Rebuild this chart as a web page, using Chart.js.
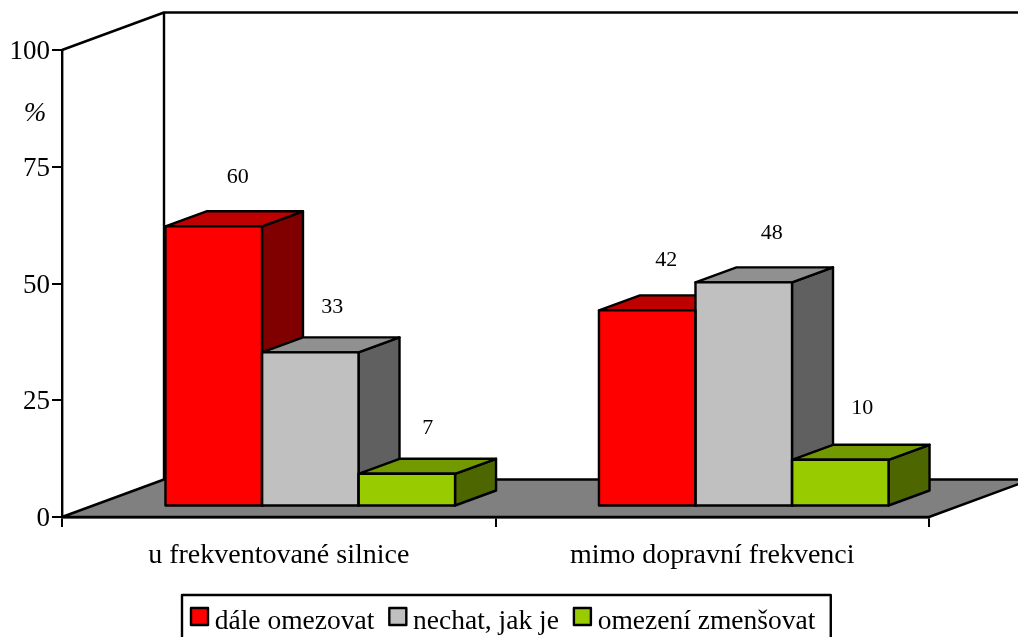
<!DOCTYPE html>
<html><head><meta charset="utf-8">
<style>html,body{margin:0;padding:0;background:#fff;overflow:hidden}canvas{display:block}</style>
<script src="https://cdn.jsdelivr.net/npm/chart.js@4/dist/chart.umd.js"></script>
</head><body><canvas id="c" width="1018" height="637"></canvas>
<script>
const categories = ["u frekventované silnice", "mimo dopravní frekvenci"];
const seriesNames = ["dále omezovat", "nechat, jak je", "omezení zmenšovat"];
const dale = [60, 42];
const nechat = [33, 48];
const omezeni = [7, 10];
const yTicks = [0, 25, 50, 75, 100];
const unitLabel = "%";

const FONT = '"Liberation Serif"';
const LW = 2.4;
const faces = [
  {front:'#ff0000', top:'#bf0000', side:'#800000'},
  {front:'#c0c0c0', top:'#909090', side:'#606060'},
  {front:'#99cc00', top:'#739900', side:'#4d6600'}
];
const DEPTH = {x:41, y:-15};      // receding direction of each bar
const WALL = {x:102, y:-37.5};    // receding direction of floor and wall
const SHIFT = {x:31.5, y:-10.5};  // front faces sit inside the floor
const labelNudge = [[[0,-1],[-5,-2]],[[-2,3],[4,-1]],[[-3,3],[-2,-3]]];

function poly(ctx, pts, fill){
  ctx.beginPath();
  pts.forEach((p,i)=> i ? ctx.lineTo(p[0],p[1]) : ctx.moveTo(p[0],p[1]));
  ctx.closePath();
  if(fill){ctx.fillStyle=fill;ctx.fill();}
  ctx.stroke();
}

const scene = {
  id:'scene',
  beforeDraw(chart){
    const lg = chart.legend, dx = 190 - lg.legendHitBoxes[0].left;
    lg.left += dx; lg.right += dx;
    lg.legendHitBoxes.forEach(h=>{h.left += dx;});
    lg.top += 9; lg.bottom += 9;
  },
  beforeDatasetsDraw(chart){
    const {ctx, chartArea:a} = chart;
    ctx.save();
    ctx.strokeStyle='#000'; ctx.lineWidth=LW; ctx.lineJoin='round';
    // back wall
    ctx.beginPath();
    ctx.moveTo(a.left,a.top);
    ctx.lineTo(a.left+WALL.x,a.top+WALL.y);
    ctx.lineTo(chart.width+2,a.top+WALL.y);
    ctx.moveTo(a.left+WALL.x,a.top+WALL.y);
    ctx.lineTo(a.left+WALL.x,a.bottom+WALL.y);
    ctx.stroke();
    // floor
    poly(ctx,[[a.left,a.bottom],[a.left+WALL.x,a.bottom+WALL.y],[a.right+WALL.x,a.bottom+WALL.y],[a.right,a.bottom]],'#808080');
    // depth faces, left to right so nearer faces overpaint farther ones
    ctx.translate(SHIFT.x,SHIFT.y);
    categories.forEach((_,j)=>{
      faces.forEach((f,i)=>{
        const b = chart.getDatasetMeta(i).data[j];
        const l=b.x-b.width/2, r=b.x+b.width/2, t=b.y, bot=b.base;
        poly(ctx,[[r,t],[r+DEPTH.x,t+DEPTH.y],[r+DEPTH.x,bot+DEPTH.y],[r,bot]],f.side);
        poly(ctx,[[l,t],[l+DEPTH.x,t+DEPTH.y],[r+DEPTH.x,t+DEPTH.y],[r,t]],f.top);
      });
    });
    ctx.restore();
    ctx.save();
    ctx.translate(SHIFT.x,SHIFT.y);
  },
  afterDatasetsDraw(chart){
    const {ctx} = chart;
    // outline the front faces the library just filled
    ctx.strokeStyle='#000'; ctx.lineWidth=LW; ctx.lineJoin='round';
    faces.forEach((f,i)=>{
      chart.getDatasetMeta(i).data.forEach(b=>{
        ctx.strokeRect(b.x-b.width/2,b.y,b.width,b.base-b.y);
      });
    });
    ctx.restore();
    ctx.save();
    ctx.fillStyle='#000'; ctx.textAlign='center'; ctx.textBaseline='middle';
    ctx.font='22px '+FONT;
    [dale,nechat,omezeni].forEach((vals,i)=>{
      vals.forEach((v,j)=>{
        const b = chart.getDatasetMeta(i).data[j];
        const n = labelNudge[i][j];
        ctx.fillText(String(v), b.x+SHIFT.x+24+n[0], b.y+SHIFT.y-48.5+n[1]);
      });
    });
    ctx.font='italic 27px '+FONT;
    ctx.fillText(unitLabel,35,114);
    ctx.restore();
  },
  afterDraw(chart){
    const {ctx, legend} = chart;
    ctx.save();
    ctx.strokeStyle='#000'; ctx.lineWidth=LW; ctx.lineJoin='round';
    const hb = legend.legendHitBoxes;
    const last = hb[hb.length-1];
    const L = 182, R = last.left+last.width+15.5;
    ctx.beginPath();
    ctx.moveTo(L,chart.height+2); ctx.lineTo(L,595); ctx.lineTo(R,595); ctx.lineTo(R,chart.height+2);
    ctx.stroke();
    hb.forEach((h,i)=>{
      ctx.fillStyle=faces[i].front;
      ctx.fillRect(h.left+1,608,17,17);
      ctx.strokeRect(h.left+1,608,17,17);
    });
    ctx.restore();
  }
};

new Chart(document.getElementById('c'),{
  type:'bar',
  data:{
    labels:categories,
    datasets:[dale,nechat,omezeni].map((d,i)=>({
      label:seriesNames[i], data:d, backgroundColor:faces[i].front,
      borderWidth:0, inflateAmount:0, clip:false,
      categoryPercentage:0.668, barPercentage:1
    }))
  },
  plugins:[scene],
  options:{
    responsive:false, animation:false, events:[],
    layout:{padding:{left:0,right:89,top:50,bottom:0}},
    plugins:{
      tooltip:{enabled:false},
      legend:{
        position:'bottom',
        labels:{
          color:'#000', font:{family:FONT,size:27.5}, boxWidth:11, boxHeight:12, padding:14,
          generateLabels(chart){
            return seriesNames.map((t,i)=>({text:t,fillStyle:'rgba(0,0,0,0)',strokeStyle:'rgba(0,0,0,0)',lineWidth:0,datasetIndex:i,fontColor:'#000'}));
          }
        }
      }
    },
    scales:{
      x:{
        offset:true,
        grid:{display:true,drawOnChartArea:false,drawTicks:true,tickLength:10,color:'#000',lineWidth:2,offset:true},
        border:{display:true,color:'#000',width:LW},
        ticks:{color:'#000',font:{family:FONT,size:28},padding:12,maxRotation:0,minRotation:0},
        afterFit(s){s.height=s.chart.height-517-s.chart.legend.height;}
      },
      y:{
        min:0,max:100,
        afterBuildTicks(s){s.ticks=yTicks.map(v=>({value:v}));},
        grid:{display:true,drawOnChartArea:false,drawTicks:true,tickLength:10,color:'#000',lineWidth:2},
        border:{display:true,color:'#000',width:LW},
        ticks:{color:'#000',font:{family:FONT,size:27},padding:2,labelOffset:2},
        afterFit(s){s.width=62;}
      }
    }
  }
});
</script></body></html>
